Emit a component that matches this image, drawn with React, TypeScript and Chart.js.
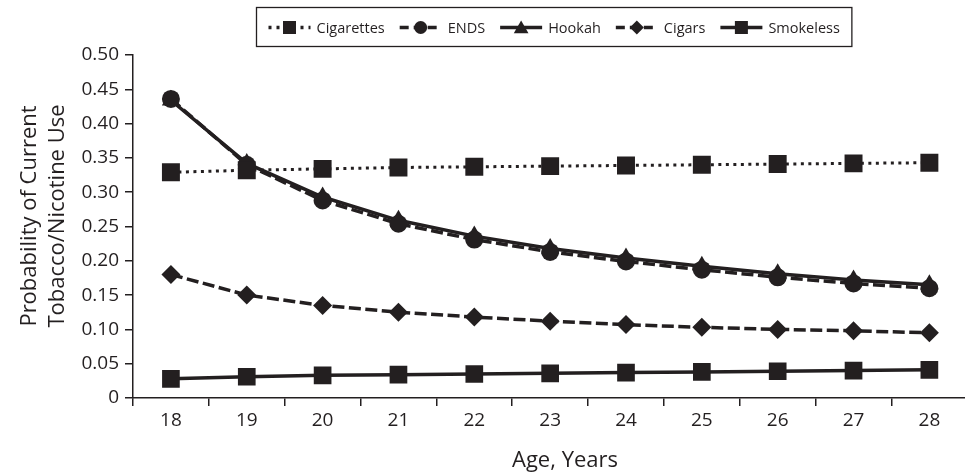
import React, { useEffect, useRef } from 'react';
import { Chart, registerables } from 'chart.js';

Chart.register(...registerables);

const ages = ['18', '19', '20', '21', '22', '23', '24', '25', '26', '27', '28'];
const cigarettes = [0.329, 0.332, 0.334, 0.336, 0.337, 0.338, 0.339, 0.340, 0.341, 0.342, 0.343];
const ends = [0.436, 0.340, 0.288, 0.254, 0.231, 0.213, 0.199, 0.187, 0.176, 0.167, 0.160];
const hookah = [0.434, 0.342, 0.293, 0.259, 0.236, 0.218, 0.204, 0.192, 0.181, 0.172, 0.165];
const cigars = [0.180, 0.150, 0.135, 0.125, 0.118, 0.112, 0.107, 0.103, 0.100, 0.098, 0.095];
const smokeless = [0.028, 0.031, 0.033, 0.034, 0.035, 0.036, 0.037, 0.038, 0.039, 0.040, 0.041];

const seriesNames = ['Cigarettes', 'ENDS', 'Hookah', 'Cigars', 'Smokeless'];
const yTitleLines = ['Probability of Current', 'Tobacco/Nicotine Use'];
const xTitle = 'Age, Years';

const INK = '#231f20';
const FONT = '"Open Sans", "Noto Sans", sans-serif';

function drawMarker(ctx: CanvasRenderingContext2D, style: string, x: number, y: number, r: number) {
  ctx.beginPath();
  if (style === 'rect') {
    const s = r * Math.SQRT1_2;
    ctx.rect(x - s, y - s, 2 * s, 2 * s);
  } else if (style === 'circle') {
    ctx.arc(x, y, r, 0, Math.PI * 2);
  } else if (style === 'triangle') {
    for (let i = 0; i < 3; i++) {
      const a = (i * 2 * Math.PI) / 3;
      const px = x + Math.sin(a) * r;
      const py = y - Math.cos(a) * r;
      if (i === 0) ctx.moveTo(px, py);
      else ctx.lineTo(px, py);
    }
    ctx.closePath();
  } else if (style === 'rectRot') {
    ctx.moveTo(x - r, y);
    ctx.lineTo(x, y - r);
    ctx.lineTo(x + r, y);
    ctx.lineTo(x, y + r);
    ctx.closePath();
  }
  ctx.fill();
}

const overlayPlugin = {
  id: 'overlay',
  afterDraw(chart: any) {
    const ctx: CanvasRenderingContext2D = chart.ctx;
    ctx.save();
    ctx.fillStyle = INK;
    ctx.strokeStyle = INK;

    // Legend
    ctx.font = `14.5px ${FONT}`;
    const symW = 42;
    const gapS = 6;
    const gapI = 15;
    const padX = 12;
    const items = chart.data.datasets.map((ds: any) => ({
      label: ds.label,
      dash: ds.borderDash || [],
      style: ds.pointStyle,
      tw: ctx.measureText(ds.label).width,
    }));
    let total = 0;
    items.forEach((it: any, i: number) => {
      total += symW + gapS + it.tw + (i < items.length - 1 ? gapI : 0);
    });
    const boxW = total + padX * 2;
    const boxX = Math.round(553.5 - boxW / 2) + 0.5;
    const boxY = 7.5;
    const boxH = 39;
    ctx.lineWidth = 1.3;
    ctx.setLineDash([]);
    ctx.strokeRect(boxX, boxY, boxW, boxH);
    let cx = boxX + padX;
    const cy = 27.5;
    items.forEach((it: any) => {
      ctx.lineWidth = 3.5;
      ctx.setLineDash(it.dash.length ? (it.style === 'rect' ? [3, 5] : [9, 5]) : []);
      ctx.beginPath();
      ctx.moveTo(cx, cy);
      ctx.lineTo(cx + symW, cy);
      ctx.stroke();
      ctx.setLineDash([]);
      const r = it.style === 'rect' ? 9.2 : it.style === 'triangle' ? 8.5 : it.style === 'circle' ? 6.5 : 7;
      drawMarker(ctx, it.style, cx + symW / 2, cy + (it.style === 'triangle' ? 1.5 : 0), r);
      ctx.textAlign = 'left';
      ctx.textBaseline = 'middle';
      ctx.fillText(it.label, cx + symW + gapS, cy + 1);
      cx += symW + gapS + it.tw + gapI;
    });

    // Y title (two lines, rotated)
    ctx.font = `22px ${FONT}`;
    ctx.textAlign = 'center';
    ctx.textBaseline = 'middle';
    const midY = 216;
    ctx.save();
    ctx.translate(30, midY);
    ctx.rotate(-Math.PI / 2);
    ctx.fillText(yTitleLines[0], 0, 0);
    ctx.restore();
    ctx.save();
    ctx.translate(58, midY);
    ctx.rotate(-Math.PI / 2);
    ctx.fillText(yTitleLines[1], 0, 0);
    ctx.restore();

    // X title
    ctx.font = `22px ${FONT}`;
    ctx.textAlign = 'center';
    ctx.textBaseline = 'alphabetic';
    ctx.fillText(xTitle, 565, 467);

    ctx.restore();
  },
};

export default function App() {
  const canvasRef = useRef<HTMLCanvasElement | null>(null);

  useEffect(() => {
    document.body.style.margin = '0';
    document.body.style.overflow = 'hidden';
    const canvas = canvasRef.current;
    if (!canvas) return;

    const dotted = [3, 4.5];
    const dashed = [12, 4.5];
    const common = {
      borderColor: INK,
      backgroundColor: INK,
      pointBackgroundColor: INK,
      pointBorderColor: INK,
      pointBorderWidth: 0,
      tension: 0,
      fill: false,
    };

    const chart = new Chart(canvas, {
      type: 'line',
      data: {
        labels: ages,
        datasets: [
          { ...common, label: seriesNames[0], data: cigarettes, borderWidth: 3, borderDash: dotted, pointStyle: 'rect', pointRadius: 12.7 },
          { ...common, label: seriesNames[1], data: ends, borderWidth: 3.5, borderDash: dashed, pointStyle: 'circle', pointRadius: 9 },
          { ...common, label: seriesNames[2], data: hookah, borderWidth: 3.5, pointStyle: 'triangle', pointRadius: 10.5 },
          { ...common, label: seriesNames[3], data: cigars, borderWidth: 3.5, borderDash: dashed, pointStyle: 'rectRot', pointRadius: 9.5 },
          { ...common, label: seriesNames[4], data: smokeless, borderWidth: 3.5, pointStyle: 'rect', pointRadius: 12.5 },
        ],
      },
      options: {
        responsive: false,
        animation: false,
        devicePixelRatio: 1,
        layout: { padding: { top: 55, right: 8, bottom: 0, left: 0 } },
        plugins: {
          legend: { display: false },
          tooltip: { enabled: false },
        },
        scales: {
          x: {
            type: 'category',
            offset: true,
            afterFit: (scale: any) => {
              scale.height = 78;
            },
            grid: {
              offset: true,
              drawOnChartArea: false,
              drawTicks: true,
              tickLength: 8,
              color: INK,
              lineWidth: 1.5,
            },
            border: { display: true, color: INK, width: 1.5 },
            ticks: {
              color: INK,
              font: { family: FONT, size: 19 },
              padding: 3,
              maxRotation: 0,
            },
          },
          y: {
            min: 0,
            max: 0.5,
            afterFit: (scale: any) => {
              scale.width = 133;
            },
            grid: {
              drawOnChartArea: false,
              drawTicks: true,
              tickLength: 8,
              color: INK,
              lineWidth: 1.5,
            },
            border: { display: true, color: INK, width: 1.5 },
            ticks: {
              stepSize: 0.05,
              color: INK,
              font: { family: FONT, size: 19 },
              padding: 6,
              callback: (v: any) => (Math.abs(v) < 1e-9 ? '0' : Number(v).toFixed(2)),
            },
          },
        },
      },
      plugins: [overlayPlugin],
    } as any);

    return () => {
      chart.destroy();
    };
  }, []);

  return (
    <div style={{ position: 'relative', width: 965, height: 476, overflow: 'hidden', background: '#fff' }}>
      <canvas ref={canvasRef} width={980} height={476} style={{ display: 'block', width: 980, height: 476 }} />
    </div>
  );
}
